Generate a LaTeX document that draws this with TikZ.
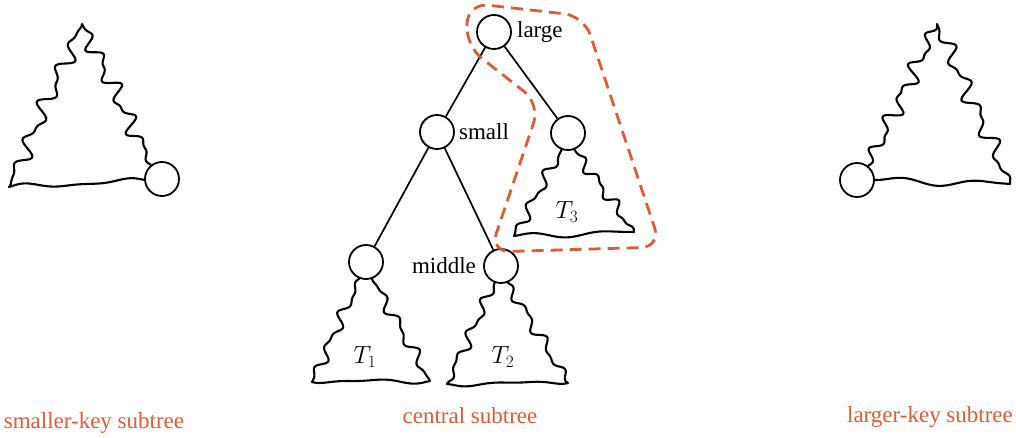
\documentclass[tikz,border=0pt]{standalone}
\usepackage{fontspec}
\setmainfont{Liberation Serif}
\usetikzlibrary{positioning}
\definecolor{subred}{RGB}{224,90,58}

% wavy stroke from (#1,#2) to (#3,#4), amplitude #5, #6 waves, phase #7
\newcommand{\wig}[7]{plot[variable=\t, domain=0:1, samples=90, smooth] ({#1+(#3-#1)*\t-(#4-#2)/veclen(#3-#1,#4-#2)*#5*wave(\t,#6,#7)}, {#2+(#4-#2)*\t+(#3-#1)/veclen(#3-#1,#4-#2)*#5*wave(\t,#6,#7)})}
\newcommand{\wigto}[7]{-- plot[variable=\t, domain=0:1, samples=90, smooth] ({#1+(#3-#1)*\t-(#4-#2)/veclen(#3-#1,#4-#2)*#5*wave(\t,#6,#7)}, {#2+(#4-#2)*\t+(#3-#1)/veclen(#3-#1,#4-#2)*#5*wave(\t,#6,#7)})}

\begin{document}
\begin{tikzpicture}[x=1pt, y=-1pt,
    declare function={
        taper(\t)=1-(2*\t-1)*(2*\t-1)*(2*\t-1)*(2*\t-1)*(2*\t-1)*(2*\t-1);
        wave(\t,\c,\p)=(sin(\c*\t*360+\p)+0.6*sin(\c*1.7*\t*360+2*\p))*taper(\t);
    },
    vert/.style={circle, draw, line width=1.8pt, minimum size=34pt, inner sep=0pt},
    edge/.style={line width=1.7pt},
    bush/.style={line width=2.1pt, line join=round, line cap=round},
    tag/.style={font=\fontsize{23}{27}\selectfont, inner sep=2pt},
    caption/.style={tag, text=subred},
    group/.style={draw=subred, line width=2.8pt, dash pattern=on 12pt off 7pt, rounded corners=20pt}
]
    \useasboundingbox (0,0) rectangle (1016,438);

    % central subtree
    \node[vert] (lg) at (494,32) {};
    \node[vert] (sm) at (437,132) {};
    \node[vert] (rc) at (568,133) {};
    \node[vert] (ml) at (366,262) {};
    \node[vert] (mr) at (501,266) {};
    \node[tag, right=3pt of lg] (lgtag) {large};
    \node[tag, right=2pt of sm] (smtag) {small};
    \node[tag, left=5pt of mr] (mrtag) {middle};

    \draw[edge] (lg) -- (sm);
    \draw[edge] (lg) -- (rc);
    \draw[edge] (sm) -- (ml);
    \draw[edge] (sm) -- (mr);

    \draw[bush] \wig{360}{278}{312}{382}{4}{3.5}{20} \wigto{312}{382}{430}{381}{2}{1.2}{70} \wigto{430}{381}{372}{278}{4}{3.5}{110};
    \draw[bush] \wig{495}{282}{447}{384}{4}{3.5}{200} \wigto{447}{384}{568}{383}{2}{1.2}{10} \wigto{568}{383}{507}{282}{4}{3.5}{300};
    \draw[bush] \wig{562}{149}{514}{236}{4}{3}{140} \wigto{514}{236}{634}{232}{2}{1.2}{250} \wigto{634}{232}{574}{149}{4}{3.5}{40};
    \node[tag] (t1) at (365,357) {$T_1$};
    \node[tag] (t2) at (503,357) {$T_2$};
    \node[tag] (t3) at (567,212) {$T_3$};

    \draw[group] (466,46) -- (468,3) -- (584,16) -- (661,247) -- (490,252) -- (540,104) -- cycle;

    % side subtrees
    \node[vert] (lx) at (162,179) {};
    \draw[bush] \wig{145}{180}{9}{187}{2.5}{1.3}{30} \wigto{9}{187}{82}{24}{6}{5}{90} \wigto{82}{24}{151}{165}{6}{5}{160};
    \node[vert] (rx) at (857,180) {};
    \draw[bush] \wig{874}{180}{1010}{184}{2.5}{1.3}{220} \wigto{1010}{184}{937}{24}{6}{5}{15} \wigto{937}{24}{868}{166}{6}{5}{280};

    \node[caption] (lcap) at (94,423) {smaller-key subtree};
    \node[caption] (ccap) at (470,416) {central subtree};
    \node[caption] (rcap) at (930,417) {larger-key subtree};
\end{tikzpicture}
\end{document}
